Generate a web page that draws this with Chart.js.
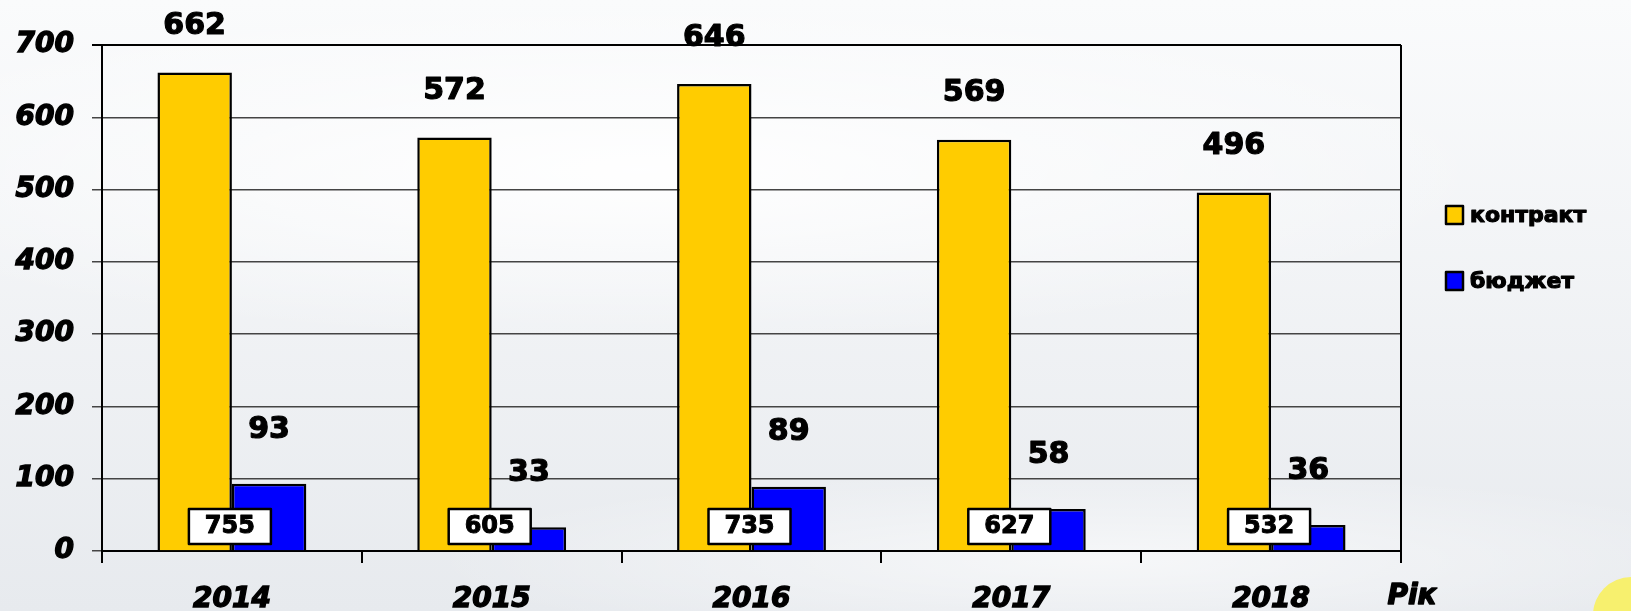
<!DOCTYPE html>
<html lang="uk">
<head>
<meta charset="UTF-8">
<title>Контракт і бюджет по роках</title>
<script src="https://cdn.jsdelivr.net/npm/chart.js"></script>
<style>
    html, body { margin: 0; padding: 0; }
    body {
        width: 1631px; height: 611px; overflow: hidden; position: relative;
        background:
            radial-gradient(ellipse 1150px 230px at 640px 170px, rgba(255,255,255,0.95), rgba(255,255,255,0) 75%),
            radial-gradient(ellipse 900px 120px at 1100px 560px, rgba(255,255,255,0.6), rgba(255,255,255,0) 75%),
            linear-gradient(#fafbfc, #e7eaee);
    }
    .corner { position: absolute; right: -38px; bottom: -42px; width: 76px; height: 76px; border-radius: 50%; background: #f7f06e; }
    #chart { position: absolute; left: 0; top: 0; }
</style>
</head>
<body>
<div class="corner"></div>
<canvas id="chart" width="1631" height="611"></canvas>

<script>
    const years = ['2014', '2015', '2016', '2017', '2018'];
    const contract = [662, 572, 646, 569, 496];
    const budget = [93, 33, 89, 58, 36];
    const totals = [755, 605, 735, 627, 532];
    const axisTitle = 'Рік';

    const FONT = "'DejaVu Sans', sans-serif";

    // heavy text: fill plus a thin stroke of the same colour
    function heavyText(ctx, txt, x, y, w) {
        ctx.lineWidth = w;
        ctx.strokeStyle = '#000';
        ctx.lineJoin = 'round';
        ctx.strokeText(txt, x, y);
        ctx.fillText(txt, x, y);
    }

    // value labels, total boxes, legend and the frame on the right
    const overlay = {
        id: 'overlay',
        afterDatasetsDraw(chart) {
            const ctx = chart.ctx;
            const area = chart.chartArea;
            ctx.save();

            // right frame line
            ctx.strokeStyle = '#000';
            ctx.lineWidth = 2;
            ctx.beginPath();
            ctx.moveTo(area.right, area.top);
            ctx.lineTo(area.right, area.bottom);
            ctx.stroke();

            // labels over bars
            const offsets = [46, 54];
            ctx.fillStyle = '#000';
            ctx.font = 'bold 30px ' + FONT;
            ctx.textAlign = 'center';
            ctx.textBaseline = 'middle';
            chart.data.datasets.forEach((ds, i) => {
                chart.getDatasetMeta(i).data.forEach((bar, j) => {
                    heavyText(ctx, String(ds.data[j]), bar.x, bar.y - offsets[i], 1.2);
                });
            });

            // total boxes
            const m0 = chart.getDatasetMeta(0).data;
            const m1 = chart.getDatasetMeta(1).data;
            ctx.font = 'bold 24px ' + FONT;
            totals.forEach((t, j) => {
                const cx = (m0[j].x + m1[j].x) / 2 - 2;
                const cy = area.bottom - 25;
                ctx.fillStyle = '#fff';
                ctx.fillRect(cx - 41, cy - 17, 82, 35);
                ctx.strokeStyle = '#000';
                ctx.lineWidth = 2.5;
                ctx.strokeRect(cx - 41, cy - 17, 82, 35);
                ctx.fillStyle = '#000';
                heavyText(ctx, String(t), cx, cy + 1, 1);
            });

            // legend
            ctx.font = 'bold 22px ' + FONT;
            ctx.textAlign = 'left';
            chart.data.datasets.forEach((ds, i) => {
                const y = 215 + i * 66;
                ctx.fillStyle = ds.backgroundColor;
                ctx.fillRect(1446, y - 9, 17, 18);
                ctx.strokeStyle = '#000';
                ctx.lineWidth = 2.5;
                ctx.strokeRect(1446, y - 9, 17, 18);
                ctx.fillStyle = '#000';
                heavyText(ctx, ds.label, 1470, y + 1, 1.2);
            });

            // axis title
            ctx.font = 'italic bold 28px ' + FONT;
            ctx.textAlign = 'center';
            heavyText(ctx, axisTitle, 1412, 597, 1.4);

            ctx.restore();
        }
    };

    const tickFont = { family: FONT, size: 28, weight: 'bold', style: 'italic' };

    new Chart(document.getElementById('chart'), {
        type: 'bar',
        data: {
            labels: years,
            datasets: [
                {
                    label: 'контракт',
                    data: contract,
                    backgroundColor: '#FFCC00',
                    borderColor: '#000',
                    borderWidth: 2.5,
                    categoryPercentage: 0.573,
                    barPercentage: 1
                },
                {
                    label: 'бюджет',
                    data: budget,
                    backgroundColor: '#0000FF',
                    borderColor: '#000',
                    borderWidth: 2.5,
                    categoryPercentage: 0.573,
                    barPercentage: 1
                }
            ]
        },
        options: {
            responsive: false,
            animation: false,
            layout: { padding: { left: 10, right: 230, top: 45, bottom: 0 } },
            plugins: {
                legend: { display: false },
                tooltip: { enabled: false }
            },
            scales: {
                x: {
                    grid: { offset: true, drawOnChartArea: false, drawTicks: true, tickLength: 12, color: '#000', lineWidth: 2 },
                    border: { color: '#000', width: 2 },
                    ticks: { color: '#000', padding: 20, font: tickFont, textStrokeColor: '#000', textStrokeWidth: 1.4 },
                    afterFit(s) { s.height = 60; }
                },
                y: {
                    min: 0,
                    max: 700,
                    ticks: { stepSize: 100, color: '#000', padding: 18, font: tickFont, textStrokeColor: '#000', textStrokeWidth: 1.4 },
                    grid: {
                        color: c => (c.tick && c.tick.value === 700) ? '#000' : '#444',
                        lineWidth: c => (c.tick && c.tick.value === 700) ? 2 : 1.5,
                        tickLength: 10
                    },
                    border: { color: '#000', width: 2 },
                    afterFit(s) { s.width = 92; }
                }
            }
        },
        plugins: [overlay]
    });
</script>
</body>
</html>
